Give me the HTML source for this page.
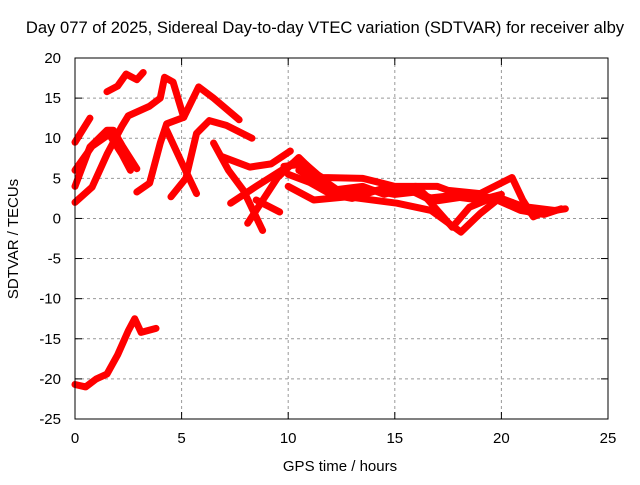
<!DOCTYPE html>
<html><head><meta charset="utf-8"><style>
body{margin:0;background:#fff}
svg text{font-family:"Liberation Sans",sans-serif;font-size:15px;fill:#000}
</style></head><body>
<svg id="chart" width="640" height="480" viewBox="0 0 640 480" xmlns="http://www.w3.org/2000/svg">
<rect width="640" height="480" fill="#fff"/>
<text x="325" y="33" text-anchor="middle" style="font-size:16.6px">Day 077 of 2025, Sidereal Day-to-day VTEC variation (SDTVAR) for receiver alby</text>
<text x="340" y="471" text-anchor="middle">GPS time / hours</text>
<text transform="translate(18,239) rotate(-90)" text-anchor="middle">SDTVAR / TECUs</text>
<g id="grid"></g><g id="ticks"></g><g id="series"></g>
<rect x="75" y="58" width="533" height="361" fill="none" stroke="#000" stroke-width="1"/>
</svg>
<script>
const xTicks=[0,5,10,15,20,25];
const yTicks=[20,15,10,5,0,-5,-10,-15,-20,-25];
const trackA=[[0,-20.7],[0.5,-21],[1,-20],[1.5,-19.4],[2,-17],[2.5,-14],[2.8,-12.5],[3.1,-14.2],[3.8,-13.7]];
const trackB=[[1.5,15.8],[2,16.5],[2.4,18],[2.9,17.3],[3.2,18.2]];
const trackC=[[0,9.5],[0.7,12.5]];
const trackD=[[0,2],[0.8,3.9],[1.5,8],[2.2,11.5],[2.5,12.8],[3.5,14],[4,15],[4.2,17.6],[4.6,17],[5.1,12.6]];
const trackE=[[2.9,3.3],[3.5,4.4],[4,9.4],[4.3,11.8],[5.1,12.6],[5.8,16.4],[6.5,15],[7.7,12.3]];
const trackF=[[0,4],[0.7,8.9],[1.5,11],[1.8,11],[2.25,8.9],[2.9,6.2]];
const trackG=[[0,6],[0.8,9],[1.6,10.5],[2.2,8],[2.6,6]];
const trackH=[[4.3,11],[5,7],[5.7,3.1]];
const trackI=[[4.5,2.7],[5.2,5],[5.7,10.6],[6.3,12.2],[7.1,11.6],[8.3,10]];
const trackJ=[[6.5,9.4],[7.2,6],[7.9,3.5],[8.8,-1.5]];
const trackK=[[6.9,7.7],[7.6,7],[8.2,6.4],[9.2,6.8],[10.1,8.4]];
const trackL=[[7.3,1.9],[8.5,4],[10.4,7.2],[11,6],[11.6,5.1],[13.5,5],[15,4],[17,4],[17.5,3.5],[19,3.1],[20.5,5.1],[21,2.3],[21.5,0.2],[22,0.8],[23,1.2]];
const trackM=[[8.1,-0.6],[9.5,5.1],[10.5,7.6],[11.5,5],[12.5,3]];
const trackN=[[8.5,2.3],[9.6,0.8]];
const trackO=[[10,4],[11.2,2.3],[12.8,2.7],[15.1,1.9],[16.7,1.0],[18.1,-1.7],[19,0.6],[19.8,2.3],[20.9,1],[22,0.5],[22.8,1.2]];
const trackP=[[16.3,3.1],[17,1],[17.7,-1.1],[18.5,1.4],[19.5,2.5],[20.5,2],[21.5,0.5]];
const trackQ=[[10.5,6],[12,3.5],[13.5,4],[14.5,3],[15.5,3.8],[16.5,2.5],[17.5,2.8],[19,2.3],[20,3]];
const trackR=[[9.8,6.5],[10.8,6.8],[11.8,4.5],[12.5,3.2],[14,3.5],[15,3],[16,3.3],[17,2.2],[18.5,2.8],[20,2.5],[21,1.5],[22.5,1]];
const trackS=[[10,5.5],[11,4.5],[12,3],[13,2.5],[14.5,3.8],[16,4],[16.8,2]];
const tracks=[trackA,trackB,trackC,trackD,trackE,trackF,trackG,trackH,trackI,trackJ,trackK,trackL,trackM,trackN,trackO,trackP,trackQ,trackR,trackS];
const X=h=>75+h*(533/25), Y=v=>58+(20-v)*(361/45);
const NS="http://www.w3.org/2000/svg";
const g=document.getElementById('grid'),t=document.getElementById('ticks'),s=document.getElementById('series');
function mk(tag,at,p){const e=document.createElementNS(NS,tag);for(const k in at)e.setAttribute(k,at[k]);p.appendChild(e);return e;}
xTicks.forEach(h=>{
  if(h>0&&h<25){const l=mk('line',{x1:X(h),x2:X(h),y1:58,y2:419,stroke:'#999','stroke-dasharray':'3,3'},g);
  
  }
  const tx=mk('text',{x:X(h),y:443,'text-anchor':'middle'},t);tx.textContent=h;
  
  
  mk('line',{x1:X(h),x2:X(h),y1:419,y2:412,stroke:'#000'},t);
  mk('line',{x1:X(h),x2:X(h),y1:58,y2:65,stroke:'#000'},t);
});
yTicks.forEach(v=>{
  if(v<20&&v>-25){const l=mk('line',{x1:75,x2:608,y1:Y(v),y2:Y(v),stroke:'#999','stroke-dasharray':'3,3'},g);
  
  }
  const tx=mk('text',{x:61,y:Y(v)+5,'text-anchor':'end'},t);tx.textContent=v;
  
  
  mk('line',{x1:75,x2:82,y1:Y(v),y2:Y(v),stroke:'#000'},t);
  mk('line',{x1:601,x2:608,y1:Y(v),y2:Y(v),stroke:'#000'},t);
});
tracks.forEach(tr=>{
  const p=mk('polyline',{points:tr.map(d=>X(d[0])+','+Y(d[1])).join(' '),fill:'none',stroke:'#f00','stroke-width':7,'stroke-linejoin':'round','stroke-linecap':'round'},s);
  
  
});
</script>
</body></html>
